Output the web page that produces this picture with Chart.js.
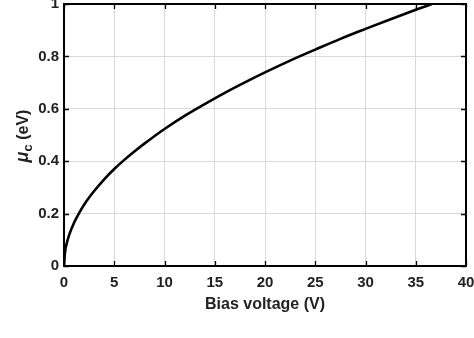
<!DOCTYPE html>
<html>
<head>
<meta charset="utf-8">
<style>
  html, body { margin: 0; padding: 0; background: #fff; }
  #wrap { width: 474px; height: 338px; }
</style>
<script src="https://cdn.jsdelivr.net/npm/chart.js@4/dist/chart.umd.min.js"></script>
</head>
<body>
<div id="wrap"><canvas id="chart" width="474" height="338"></canvas></div>
<script>
  // values
  var biasVoltage = [0, 0.1, 0.25, 0.5, 1, 1.5, 2, 3, 4, 5, 6, 7, 8, 10, 12, 14, 16, 18, 20, 22.5, 25, 27.5, 30, 32.5, 35, 36.6];
  var chemPotential = [0, 0.052, 0.083, 0.117, 0.165, 0.202, 0.234, 0.286, 0.331, 0.37, 0.405, 0.437, 0.467, 0.523, 0.573, 0.618, 0.661, 0.701, 0.739, 0.784, 0.826, 0.867, 0.905, 0.942, 0.978, 1.0];
  var xTicks = [0, 5, 10, 15, 20, 25, 30, 35, 40];
  var yTicks = [0, 0.2, 0.4, 0.6, 0.8, 1];
  var xTitle = "Bias voltage (V)";

  var FONT = "Liberation Sans, Arial, sans-serif";
  var gridGray = "#d9d9d9";

  var points = biasVoltage.map(function (v, i) { return { x: v, y: chemPotential[i] }; });

  // box, inward ticks and axis titles (MATLAB look)
  var frame = {
    id: "frame",
    afterDraw: function (chart) {
      var ctx = chart.ctx;
      var a = chart.chartArea;
      var sx = chart.scales.x, sy = chart.scales.y;
      var t = 5;
      ctx.save();
      ctx.strokeStyle = "#000";
      ctx.lineWidth = 1.3;
      ctx.beginPath();
      xTicks.forEach(function (v) {
        var px = Math.round(sx.getPixelForValue(v)) + 0.5;
        ctx.moveTo(px, a.bottom); ctx.lineTo(px, a.bottom - t);
        ctx.moveTo(px, a.top); ctx.lineTo(px, a.top + t);
      });
      yTicks.forEach(function (v) {
        var py = Math.round(sy.getPixelForValue(v)) + 0.5;
        ctx.moveTo(a.left, py); ctx.lineTo(a.left + t, py);
        ctx.moveTo(a.right, py); ctx.lineTo(a.right - t, py);
      });
      ctx.stroke();
      ctx.lineWidth = 2;
      ctx.strokeRect(a.left, a.top, a.right - a.left, a.bottom - a.top);

      // x title
      ctx.fillStyle = "#222";
      ctx.font = "bold 16px " + FONT;
      ctx.textAlign = "center";
      ctx.textBaseline = "middle";
      ctx.fillText(xTitle, (a.left + a.right) / 2, 305);

      // y title with subscript
      ctx.translate(22, 136);
      ctx.rotate(-Math.PI / 2);
      ctx.textAlign = "left";
      ctx.textBaseline = "alphabetic";
      var mu = "\u03bc", sub = "c", rest = " (eV)";
      ctx.font = "italic bold 18px " + FONT;
      var w1 = ctx.measureText(mu).width;
      ctx.font = "bold 13px " + FONT;
      var w2 = ctx.measureText(sub).width;
      ctx.font = "bold 16px " + FONT;
      var w3 = ctx.measureText(rest).width;
      var x0 = -(w1 + w2 + w3) / 2;
      ctx.font = "italic bold 18px " + FONT;
      ctx.fillText(mu, x0, 6);
      ctx.font = "bold 13px " + FONT;
      ctx.fillText(sub, x0 + w1, 10);
      ctx.font = "bold 16px " + FONT;
      ctx.fillText(rest, x0 + w1 + w2, 6);
      ctx.restore();
    }
  };

  new Chart(document.getElementById("chart"), {
    type: "line",
    data: {
      datasets: [{
        data: points,
        borderColor: "#000",
        borderWidth: 2.6,
        pointRadius: 0,
        fill: false,
        cubicInterpolationMode: "monotone"
      }]
    },
    options: {
      responsive: false,
      animation: false,
      layout: { padding: { top: 4, right: 8, left: 0, bottom: 0 } },
      plugins: { legend: { display: false }, tooltip: { enabled: false } },
      scales: {
        x: {
          type: "linear",
          min: 0,
          max: 40,
          afterBuildTicks: function (s) { s.ticks = xTicks.map(function (v) { return { value: v }; }); },
          afterFit: function (s) { s.height = 72; s.paddingLeft = 0; s.paddingRight = 0; },
          grid: { color: gridGray, lineWidth: 1, drawTicks: false },
          border: { display: false },
          ticks: {
            padding: 8,
            color: "#222",
            font: { family: FONT, size: 15, weight: "bold" },
            maxRotation: 0,
            callback: function (v) { return String(v); }
          }
        },
        y: {
          type: "linear",
          min: 0,
          max: 1,
          afterBuildTicks: function (s) { s.ticks = yTicks.map(function (v) { return { value: v }; }); },
          afterFit: function (s) { s.width = 64; s.paddingTop = 0; s.paddingBottom = 0; },
          grid: { color: gridGray, lineWidth: 1, drawTicks: false },
          border: { display: false },
          ticks: {
            padding: 5,
            color: "#222",
            font: { family: FONT, size: 15, weight: "bold" },
            callback: function (v) { return String(Math.round(v * 10) / 10); }
          }
        }
      }
    },
    plugins: [frame]
  });
</script>
</body>
</html>
